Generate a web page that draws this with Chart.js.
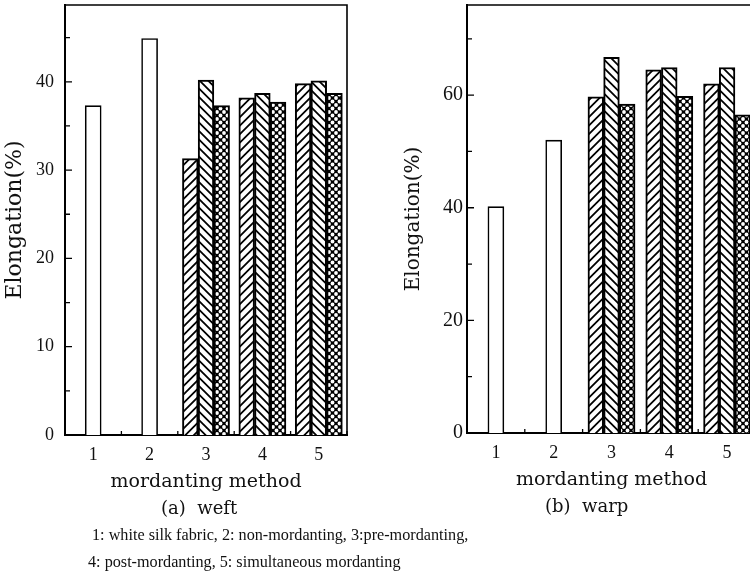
<!DOCTYPE html>
<html><head><meta charset="utf-8">
<script src="https://cdn.jsdelivr.net/npm/chart.js@4.4.1/dist/chart.umd.min.js"></script>
<style>
html,body{margin:0;padding:0;width:750px;height:575px;overflow:hidden;background:#fff;}
canvas{position:absolute;}
#cL{left:0;top:0;}
#cR{left:400px;top:0;}
.cap{position:absolute;color:#111;white-space:nowrap;line-height:1;}
</style></head><body>
<canvas id="cL" width="352" height="500"></canvas>
<canvas id="cR" width="370" height="498"></canvas>
<div class="cap" style="left:161px;top:499px;font-size:18px;font-family:'DejaVu Serif';">(a)&nbsp;&nbsp;weft</div>
<div class="cap" style="left:545px;top:497px;font-size:18px;font-family:'DejaVu Serif';">(b)&nbsp;&nbsp;warp</div>
<div class="cap" style="left:92px;top:527px;font-size:16.2px;font-family:'Liberation Serif';">1: white silk fabric, 2: non-mordanting, 3:pre-mordanting,</div>
<div class="cap" style="left:88px;top:554px;font-size:16.2px;font-family:'Liberation Serif';">4: post-mordanting, 5: simultaneous mordanting</div>
<script>
// ---- data ----
const categories = ['1', '2', '3', '4', '5'];
const weftSilk = [37.3, 44.9, null, null, null];
const weftS1 = [null, null, 31.3, 38.2, 39.8];
const weftS2 = [null, null, 40.2, 38.7, 40.1];
const weftS3 = [null, null, 37.3, 37.7, 38.7];
const warpSilk = [40.2, 52.0, null, null, null];
const warpS1 = [null, null, 59.7, 64.5, 62.0];
const warpS2 = [null, null, 66.7, 64.9, 64.9];
const warpS3 = [null, null, 58.4, 59.8, 56.5];
const weftMax = 48.7, warpMax = 76;
const weftStep = 5, warpStep = 10, weftLabelEvery = 10, warpLabelEvery = 20;

// ---- patterns ----
function hatch(dir) {
  const s = 8.5, c = document.createElement('canvas');
  c.width = 17; c.height = 17;
  const g = c.getContext('2d');
  g.fillStyle = '#fff'; g.fillRect(0, 0, 17, 17);
  g.strokeStyle = '#000'; g.lineWidth = 1.8;
  g.beginPath();
  for (let k = -2; k <= 4; k++) {
    const o = k * s;
    if (dir > 0) { g.moveTo(o - 1, 18); g.lineTo(o + 18, -1); }
    else { g.moveTo(o - 1, -1); g.lineTo(o + 18, 18); }
  }
  g.stroke();
  return g.createPattern(c, 'repeat');
}
function dots() {
  const s = 7, c = document.createElement('canvas');
  c.width = s; c.height = s;
  const g = c.getContext('2d');
  g.fillStyle = '#000'; g.fillRect(0, 0, s, s);
  g.fillStyle = '#fff';
  [[0,0],[s,0],[0,s],[s,s],[s/2,s/2]].forEach(([x,y]) => { g.beginPath(); g.arc(x, y, 1.9, 0, Math.PI*2); g.fill(); });
  return g.createPattern(c, 'repeat');
}

const framePlugin = {
  id: 'frame',
  beforeDatasetsDraw(chart) {
    const {ctx, chartArea: a, scales: {x}} = chart;
    ctx.save(); ctx.strokeStyle = '#000'; ctx.lineWidth = 1.3;
    ctx.beginPath();
    const n = chart.data.labels.length;
    const half = (x.getPixelForValue(1) - x.getPixelForValue(0)) / 2;
    for (let i = 0; i < n; i++) {
      const px = x.getPixelForValue(i);
      ctx.moveTo(px, a.bottom); ctx.lineTo(px, a.bottom - 6);
      ctx.moveTo(px + half, a.bottom); ctx.lineTo(px + half, a.bottom - 4);
    }
    ctx.stroke(); ctx.restore();
  },
  afterDraw(chart) {
    const {ctx, chartArea: a, scales: {y}} = chart;
    ctx.save();
    ctx.strokeStyle = '#000';
    ctx.lineWidth = 1.6;
    ctx.beginPath();
    ctx.moveTo(a.left, a.top); ctx.lineTo(a.right, a.top); ctx.lineTo(a.right, a.bottom);
    ctx.stroke();
    ctx.lineWidth = 1.3;
    ctx.beginPath();
    y.ticks.forEach(t => {
      if (t.value <= 0) return;
      const py = y.getPixelForValue(t.value);
      const len = t.label !== '' ? 7 : 5;
      ctx.moveTo(a.left, py); ctx.lineTo(a.left + len, py);
    });
    ctx.stroke();
    ctx.restore();
  }
};

function makeChart(id, silk, s1, s2, s3, max, step, every, yWidth, padRight, tickPad, yTickSize, titleSize) {
  const bw = w => (c => (c.raw == null ? 0 : w));
  const common = {borderColor: '#000', skipNull: true, categoryPercentage: 1, barPercentage: 1};
  return new Chart(document.getElementById(id), {
    type: 'bar',
    data: {
      labels: categories,
      datasets: [
        Object.assign({data: silk, backgroundColor: '#fff', borderWidth: bw(1.6), barThickness: 16}, common),
        Object.assign({data: s1, backgroundColor: hatch(1), borderWidth: bw(2), barThickness: 15.7}, common),
        Object.assign({data: s2, backgroundColor: hatch(-1), borderWidth: bw(2), barThickness: 15.7}, common),
        Object.assign({data: s3, backgroundColor: dots(), borderWidth: bw(2), barThickness: 15.7}, common)
      ]
    },
    options: {
      responsive: false, animation: false,
      layout: {padding: {left: 0, top: 5, right: padRight, bottom: 0}},
      plugins: {legend: {display: false}, tooltip: {enabled: false}},
      scales: {
        x: {
          type: 'category', offset: true,
          grid: {display: false, drawTicks: false},
          border: {display: true, color: '#000', width: 2},
          ticks: {font: {family: 'Liberation Serif', size: 18}, color: '#111', padding: 9},
          title: {display: true, text: 'mordanting method', color: '#111',
                  font: {family: 'DejaVu Serif', size: 19}, padding: {top: 0, bottom: 7}},
          afterFit(s) { s.height = 65; s.paddingLeft = 0; s.paddingRight = 0; }
        },
        y: {
          min: 0, max: max,
          grid: {display: false, drawTicks: false},
          border: {display: true, color: '#000', width: 2},
          ticks: {stepSize: step, includeBounds: false, color: '#111', padding: tickPad,
                  font: {family: 'Liberation Serif', size: yTickSize},
                  callback: v => (v % every === 0 ? String(v) : '')},
          title: {display: true, text: 'Elongation(%)', color: '#111',
                  font: {family: 'DejaVu Serif', size: titleSize}, padding: {top: 2, bottom: 0}},
          afterFit(s) { s.width = yWidth; s.paddingTop = 0; s.paddingBottom = 0; }
        }
      }
    },
    plugins: [framePlugin]
  });
}

makeChart('cL', weftSilk, weftS1, weftS2, weftS3, weftMax, weftStep, weftLabelEvery, 65, 5, 11, 18, 22);
makeChart('cR', warpSilk, warpS1, warpS2, warpS3, warpMax, warpStep, warpLabelEvery, 67, 14, 4, 20, 20);
</script>
</body></html>
